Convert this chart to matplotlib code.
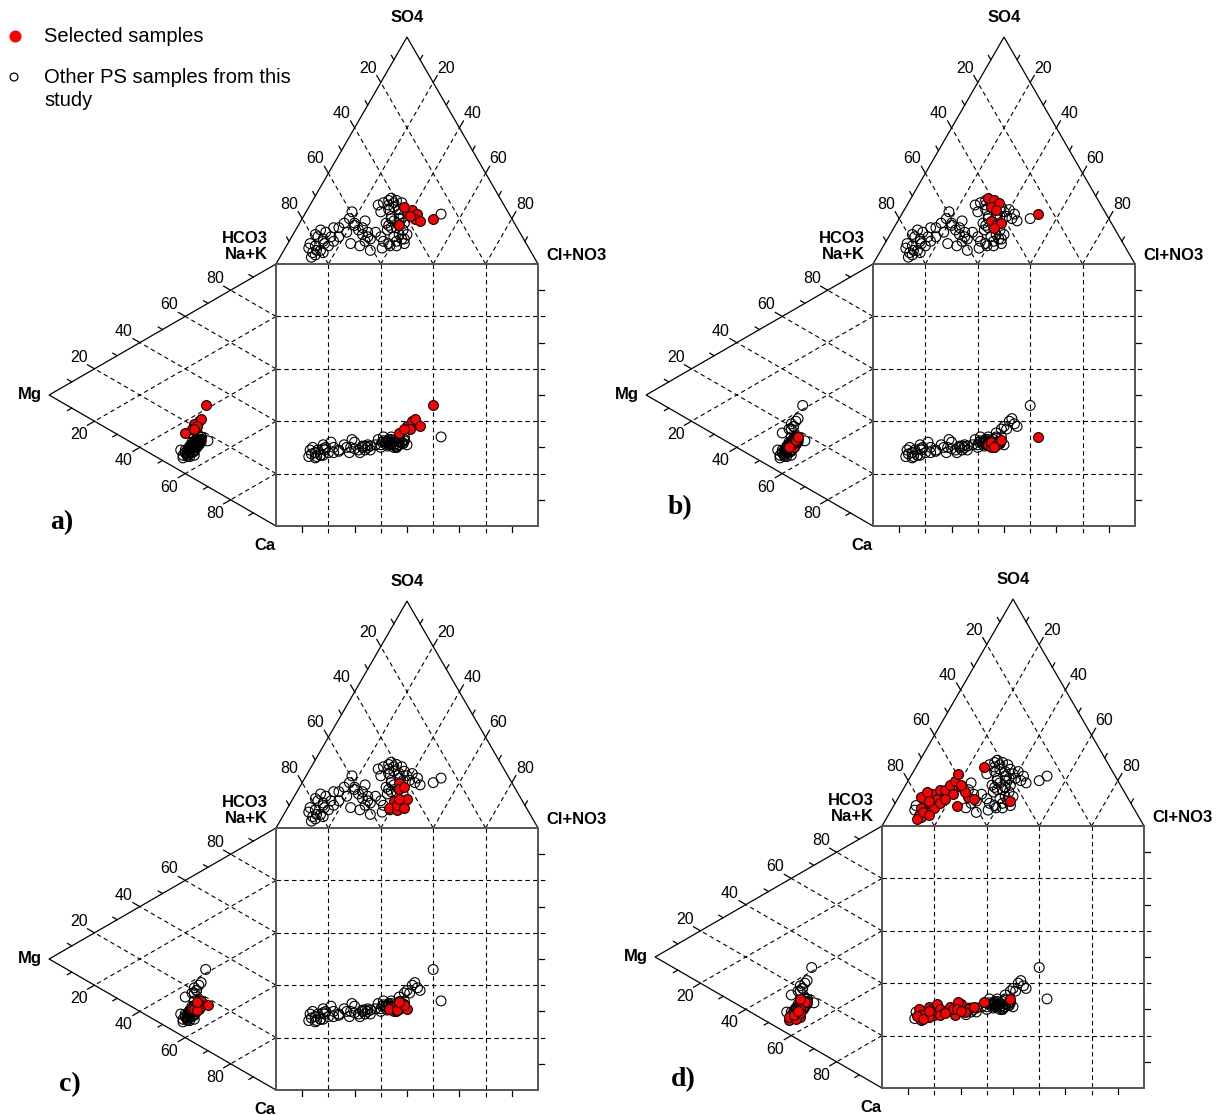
import numpy as np
import matplotlib.pyplot as plt
from matplotlib.patches import Rectangle

plt.rcParams['font.family'] = ['Liberation Sans', 'DejaVu Sans']

# sample compositions in % meq (HCO3 = 100 - so4 - cl, Na+K = 100 - mg - ca)
so4 = [5, 8, 12, 6, 10, 14, 13, 8, 9, 12, 15, 16, 16, 18, 20, 14, 17, 13, 10, 12,
       23, 8, 6, 26, 27, 28, 23, 18, 16, 12, 9, 8, 12, 14, 20, 21, 29, 28, 27, 25,
       24, 19, 17, 18, 16, 17, 22, 20, 23, 24, 22, 20, 21, 19, 17, 25, 11, 13, 10, 9,
       11, 4, 7, 11, 9, 15, 11, 7, 13, 22, 26, 3, 6, 9, 5, 10, 12, 18, 16, 19,
       14, 20, 15, 24, 10, 8, 21, 27, 15]
cl = [11.5, 11, 10, 14, 13, 12, 8.5, 16, 8.5, 15, 9.5, 14, 16, 17, 18, 20, 21.5, 26.5, 29, 29,
      17.5, 28, 33, 26, 27.5, 29, 28.5, 33, 36, 39, 38.5, 42, 34, 31, 37, 33.5, 29.5, 32, 34.5, 32.5,
      35, 35.5, 38.5, 40, 38, 34.5, 52, 50, 38.5, 40, 43, 43, 40.5, 45.5, 38.5, 36.5, 42.5, 43.5, 41, 44.5,
      43.5, 13, 9, 12.5, 24, 24, 30.5, 37, 40.5, 36, 30, 12, 12.5, 14, 15.5, 17, 18, 21, 25, 24.5,
      28, 34, 35, 31, 36, 39.5, 38, 31.5, 41]
mg = [38, 40, 36, 39, 37, 35, 41, 38, 42, 34, 36, 37, 36, 35, 38, 37, 34, 36, 39, 35,
      33, 37, 38, 34, 33, 35, 36, 35, 34, 36, 37, 35, 38, 37, 33, 34, 36, 35, 34, 37,
      36, 35, 36, 34, 37, 33, 33, 31, 35, 34, 36, 33, 37, 35, 40, 36, 33, 34, 35, 30,
      36, 40, 39, 41, 36, 38, 37, 36, 35, 37, 36, 39, 38, 40, 37, 39, 36, 37, 36, 38,
      35, 36, 36, 35, 34, 36, 35, 34, 36]
ca = [51, 52, 53, 53.5, 50.5, 52.5, 53.5, 53, 50, 51, 55, 51.5, 53, 51.5, 53, 51.5, 51, 52, 51.5, 51.5,
      50.5, 53.5, 52, 50, 49.5, 50.5, 51, 50.5, 50, 50, 50.5, 49.5, 51, 50.5, 49.5, 49, 51, 52.5, 51, 51.5,
      51, 50.5, 51, 50, 51.5, 50.5, 49.5, 38.5, 44.5, 43, 43, 42.5, 44.5, 44.5, 44.5, 45, 51.5, 52, 52, 52.5,
      48, 52, 54, 52.5, 52, 52, 51, 50, 49, 49.5, 50, 53, 54.5, 51, 52, 52.5, 53.5, 52, 51.5, 50.5,
      52.5, 50.5, 51.5, 50, 50.5, 51, 51, 52, 50.5]

# samples highlighted in each diagram
selected = {
    'a': [47, 48, 49, 50, 51, 52, 53, 54, 55],
    'b': [36, 37, 38, 39, 40, 41, 42, 43, 44, 46],
    'c': [29, 30, 31, 34, 42, 43, 56, 57, 58, 59, 68],
    'd': [0, 1, 3, 4, 5, 6, 7, 9, 10, 11, 12, 13, 14, 15, 16, 17, 19, 20, 23,
          60, 61, 63, 64, 65, 71, 72, 74, 75, 76, 77],
}

axis_ticks = [20, 40, 60, 80]
minor_ticks = [10, 30, 50, 70, 90]

L = 262.0
H = L * np.sqrt(3) / 2

origin = {'a': (276, 264), 'b': (873, 264), 'c': (276, 828), 'd': (882, 826)}
tag_pos = {'a': (62, 523), 'b': (680, 508), 'c': (70, 1085), 'd': (683, 1080)}


def anion_xy(x0, y0, s, c):
    s = np.asarray(s) / 100.0
    c = np.asarray(c) / 100.0
    return x0 + L * (c + s / 2), y0 - H * s


def cation_xy(x0, y0, m, k):
    m = np.asarray(m) / 100.0
    k = np.asarray(k) / 100.0
    return x0 - H * m, y0 + L * (k + m / 2)


def unit(p, q):
    d = np.array(p) - np.array(q)
    return d / np.hypot(*d)


DASH = dict(color='black', lw=0.8, ls=(0, (4, 3)))
SOLID = dict(color='black', lw=0.9)


def side_grid(ax, side_pt, edge_pt, v, ha, va, dy=0):
    u = unit(side_pt, edge_pt)
    if v in axis_ticks:
        ax.plot([edge_pt[0], side_pt[0]], [edge_pt[1], side_pt[1]], **DASH)
        end = np.array(side_pt) + 8 * u
        ax.plot([side_pt[0], end[0]], [side_pt[1], end[1]], **SOLID)
        ax.text(end[0], end[1] + dy, str(v), ha=ha, va=va, fontsize=11.5)
    else:
        end = np.array(side_pt) + 5 * u
        ax.plot([side_pt[0], end[0]], [side_pt[1], end[1]], **SOLID)


def draw_piper(ax, key):
    x0, y0 = origin[key]
    apex = (x0 + L / 2, y0 - H)
    mgv = (x0 - H, y0 + L / 2)

    # grids and ticks
    for v in axis_ticks + minor_ticks:
        # anion triangle: HCO3 on the left side, Cl+NO3 on the right side
        side_grid(ax, anion_xy(x0, y0, 100 - v, 0), anion_xy(x0, y0, 0, 100 - v), v, 'right', 'bottom')
        side_grid(ax, anion_xy(x0, y0, 100 - v, v), anion_xy(x0, y0, 0, v), v, 'left', 'bottom')
        # cation triangle: Na+K on the upper side, Ca on the lower side
        side_grid(ax, cation_xy(x0, y0, 100 - v, 0), cation_xy(x0, y0, 0, 100 - v), v, 'right', 'bottom')
        side_grid(ax, cation_xy(x0, y0, 100 - v, v), cation_xy(x0, y0, 0, v), v, 'right', 'top', dy=2)
        # diamond (square) grid
        f = x0 + L * v / 100.0
        g = y0 + L * v / 100.0
        if v in axis_ticks:
            ax.plot([f, f], [y0, y0 + L + 8], **DASH)
            ax.plot([x0, x0 + L + 8], [g, g], **DASH)
        else:
            ax.plot([f, f], [y0 + L, y0 + L + 6], **SOLID)
            ax.plot([x0 + L, x0 + L + 6], [g, g], **SOLID)

    ax.plot([x0, apex[0], x0 + L], [y0, apex[1], y0], **SOLID)
    ax.plot([x0, mgv[0], x0], [y0, mgv[1], y0 + L], **SOLID)
    ax.add_patch(Rectangle((x0, y0), L, L, fill=False, ec='#555555', lw=1.4, zorder=3))

    # samples
    sel = selected[key]
    other = [i for i in range(len(so4)) if i not in sel]
    for idx, style in ((other, dict(facecolors='none', edgecolors='black')),
                       (sel, dict(facecolors='red', edgecolors='black'))):
        s = np.take(so4, idx)
        c = np.take(cl, idx)
        m = np.take(mg, idx)
        k = np.take(ca, idx)
        ax_, ay_ = anion_xy(x0, y0, s, c)
        cx_, cy_ = cation_xy(x0, y0, m, k)
        ax.scatter(ax_, ay_, s=50, lw=0.8, zorder=4, **style)
        ax.scatter(cx_, cy_, s=50, lw=0.8, zorder=4, **style)
        ax.scatter(ax_, cy_, s=50, lw=0.8, zorder=4, **style)

    # axis names
    bold = dict(fontsize=12, fontweight='bold')
    ax.text(apex[0], apex[1] - 12, 'SO4', ha='center', va='bottom', **bold)
    ax.text(x0 - 8, y0 - 2, 'HCO3\nNa+K', ha='right', va='bottom', linespacing=1.05, **bold)
    ax.text(x0 + L + 8, y0 - 9, 'Cl+NO3', ha='left', va='center', **bold)
    ax.text(mgv[0] - 7, mgv[1], 'Mg', ha='right', va='center', **bold)
    ax.text(x0 - 11, y0 + L + 19, 'Ca', ha='center', va='center', **bold)
    tx, ty = tag_pos[key]
    ax.text(tx, ty, key + ')', ha='center', va='center', fontsize=20, fontweight='bold',
            family=['Liberation Serif', 'DejaVu Serif'])


fig = plt.figure(figsize=(12.19, 11.15), dpi=100)
ax = fig.add_axes([0, 0, 1, 1])
ax.set_xlim(0, 1219)
ax.set_ylim(1115, 0)
ax.axis('off')

for key in ['a', 'b', 'c', 'd']:
    draw_piper(ax, key)

# legend
ax.scatter([15], [36], s=75, color='red', lw=0)
ax.scatter([14], [77], s=32, facecolors='none', edgecolors='black', lw=0.9)
ax.text(44, 36, 'Selected samples', ha='left', va='center', fontsize=14.5)
ax.text(44, 68, 'Other PS samples from this\nstudy', ha='left', va='top', fontsize=14.5,
        linespacing=1.3)

fig.savefig('out.png', dpi=100)
